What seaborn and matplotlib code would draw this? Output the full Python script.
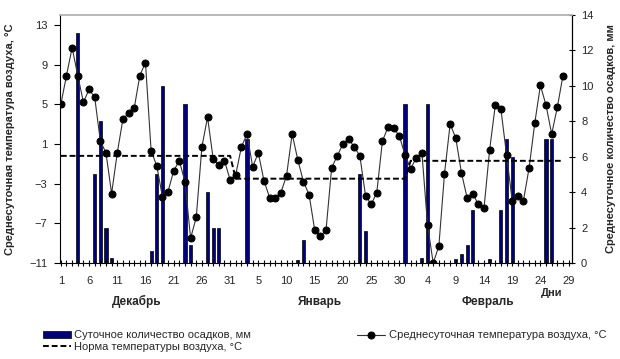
import numpy as np
import pandas as pd
import seaborn as sns
import matplotlib.pyplot as plt
import matplotlib.transforms as mtransforms

# Daily mean air temperature, 1 Dec .. 28 Feb (deg C)
temp = [5.0, 7.9, 10.7, 7.9, 5.2, 6.5, 5.7, 1.3, 0.1, -4.0,
        0.1, 3.5, 4.1, 4.6, 7.9, 9.2, 0.3, -1.2, -4.3, -3.8,
        -1.7, -0.7, -2.8, -8.5, -6.4, 0.7, 3.7, -0.5, -1.1, -0.7,
        -2.6, -2.1, 0.7, 2.0, -1.3, 0.1, -2.7, -4.4, -4.4, -3.9,
        -2.2, 2.0, -0.6, -2.8, -4.1, -7.7, -8.3, -7.7, -1.4, -0.2,
        1.0, 1.5, 0.7, -0.2, -4.2, -5.1, -3.9, 1.3, 2.7, 2.6,
        1.8, -0.1, -1.5, -0.4, 0.1, -7.2, -11.0, -9.3, -2.0, 3.0,
        1.6, -1.9, -4.4, -4.0, -5.1, -5.5, 0.4, 4.9, 4.5, -0.1,
        -4.7, -4.2, -4.7, -1.4, 3.1, 6.9, 4.9, 2.0, 4.7, 7.9]

# Daily precipitation (mm), same days
precip = [0, 0, 0, 13.0, 0, 0, 5.0, 8.0, 2.0, 0.3,
          0, 0, 0, 0, 0, 0, 0.7, 5.0, 10.0, 0,
          0, 0, 9.0, 1.0, 0, 0, 4.0, 2.0, 2.0, 0,
          0, 0, 0, 7.0, 0, 0, 0, 0, 0, 0,
          0, 0, 0.15, 1.3, 0, 0, 0, 0, 0, 0,
          0, 0, 0, 5.0, 1.8, 0, 0, 0, 0, 0,
          0, 9.0, 0, 0, 0.3, 9.0, 0, 0, 0, 0,
          0.2, 0.5, 1.0, 3.0, 0, 0, 0.2, 0, 3.0, 7.0,
          6.0, 0, 0, 0, 0, 0, 7.0, 7.0, 0, 0]

# Monthly temperature norm
months = ["Декабрь", "Январь", "Февраль"]
month_days = [31, 31, 28]
month_norm = [-0.2, -2.5, -0.7]

tick_labels = ["1", "6", "11", "16", "21", "26", "31",
               "5", "10", "15", "20", "25", "30",
               "4", "9", "14", "19", "24", "29"]

day = np.arange(len(temp))
norm = np.repeat(month_norm, month_days)
df = pd.DataFrame({"day": day, "temp": temp, "precip": precip, "norm": norm})
rain = df[df["precip"] > 0]

sns.set_theme(style="white")
plt.rcParams["font.family"] = ["Liberation Sans", "DejaVu Sans"]

fig = plt.figure(figsize=(6.2, 3.59), dpi=100)
ax = fig.add_axes([60 / 620, 1 - 263 / 359, 512 / 620, 248 / 359])
ax2 = ax.twinx()

# precipitation bars (right axis)
sns.barplot(data=rain, x="day", y="precip", native_scale=True, ax=ax2,
            color="#00007a", saturation=1, width=0.55, errorbar=None,
            edgecolor="black", linewidth=0.5)

# temperature (left axis), drawn on top
sns.lineplot(data=df, x="day", y="temp", ax=ax, color="#333333", lw=0.8,
             marker="o", markersize=5, markerfacecolor="black",
             markeredgecolor="black")
sns.lineplot(data=df, x="day", y="norm", ax=ax, color="black", lw=1.4)
ax.lines[1].set_dashes([3, 1.5])

ax.set_zorder(ax2.get_zorder() + 1)
ax.patch.set_visible(False)

ax.set_ylim(-11, 14)
ax.set_yticks([13, 9, 5, 1, -3, -7, -11])
ax2.set_ylim(0, 14)
ax2.set_yticks(range(0, 15, 2))
ax.set_xlim(-0.15, 90.6)
ax.set_xticks(range(0, 91, 5))
ax.set_xticklabels(tick_labels)
ax.set_xticks(range(91), minor=True)

ax.tick_params(axis="x", which="both", direction="inout", length=5,
               width=0.8, color="black", labelsize=8, pad=7, bottom=True)
ax.tick_params(axis="y", direction="out", length=4, width=0.8,
               color="black", labelsize=8, pad=5, left=True)
ax2.tick_params(axis="y", direction="inout", length=5, width=0.8,
                color="black", labelsize=8, pad=4, right=True)

ax.set_xlabel("")
ax.set_ylabel("Среднесуточная температура воздуха, °С",
              fontsize=8, fontweight="bold")
ax.yaxis.set_label_coords(-0.088, 0.5)
ax2.set_ylabel("Среднесуточное количество осадков, мм",
               fontsize=8, fontweight="bold", rotation=90)
ax2.yaxis.set_label_coords(1.066, 0.5)

for side in ["left", "bottom", "right"]:
    ax.spines[side].set_color("black")
    ax.spines[side].set_linewidth(0.8)
ax.spines["top"].set_color("#b0b0b0")
for side in ["left", "bottom", "top"]:
    ax2.spines[side].set_visible(False)
ax2.spines["right"].set_color("black")
ax2.spines["right"].set_linewidth(0.8)

# month names under the axis
trans = mtransforms.blended_transform_factory(ax.transData, ax.transAxes)
for name, xpos in zip(months, [13.5, 45.9, 75.7]):
    ax.text(xpos, -0.157, name, transform=trans, ha="center", va="center",
            fontsize=8.5, fontweight="bold")
ax.text(87, -0.121, "Дни", transform=trans, ha="center", va="center",
        fontsize=8, fontweight="bold")

fig.legend(handles=[ax2.patches[0], ax.lines[1], ax.lines[0]],
           labels=["Суточное количество осадков, мм",
                   "Норма температуры воздуха, °С",
                   "Среднесуточная температура воздуха, °С"],
           ncol=2, loc="upper left", bbox_to_anchor=(0.069, 0.08),
           frameon=False, fontsize=8, handlelength=2.5, handleheight=0.5,
           handletextpad=0.3, columnspacing=9.6, labelspacing=0.15,
           borderpad=0, borderaxespad=0)

fig.savefig("out.png", dpi=100)
